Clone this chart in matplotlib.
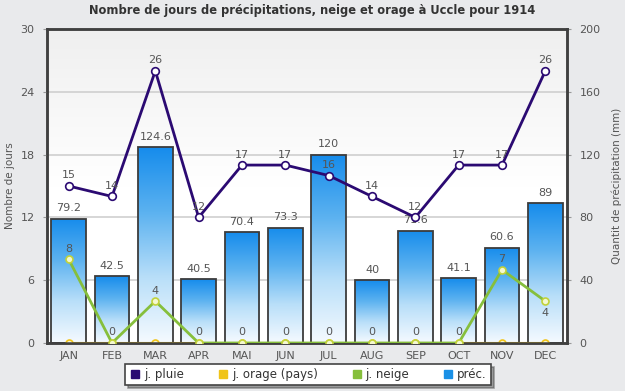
import numpy as np
import matplotlib
matplotlib.use('Agg')
import matplotlib.pyplot as plt
from matplotlib.lines import Line2D


# =====================
# data
months = ['JAN', 'FEB', 'MAR', 'APR', 'MAI', 'JUN', 'JUL', 'AUG', 'SEP', 'OCT', 'NOV', 'DEC']
pluie = [15, 14, 26, 12, 17, 17, 16, 14, 12, 17, 17, 26]
orage = [0, 0, 0, 0, 0, 0, 0, 0, 0, 0, 0, 0]
neige = [8, 0, 4, 0, 0, 0, 0, 0, 0, 0, 7, 4]
prec = [79.2, 42.5, 124.6, 40.5, 70.4, 73.3, 120, 40, 71.6, 41.1, 60.6, 89]

left_ticks = [0, 6, 12, 18, 24, 30]
right_ticks = [0, 40, 80, 120, 160, 200]

txt = '#555555'
navy = '#2b0a72'
green = '#86bf3c'
yellow = '#f0c419'
blue = '#1a90e6'

plt.rcParams['font.family'] = ['DejaVu Sans']


# =====================
# figure
fig = plt.figure(figsize=(6.25, 3.91), dpi=100)
fig.patch.set_facecolor('#e9eaec')
ax2 = fig.add_axes([47/625, 48/391, 520/625, 314/391])
ax = ax2.twinx()
ax.yaxis.tick_left()
ax.yaxis.set_label_position('left')
ax2.yaxis.tick_right()
ax2.yaxis.set_label_position('right')
ax.set_zorder(ax2.get_zorder() + 1)
ax.patch.set_visible(False)

x = np.arange(len(months))

# background gradient of plot area
bg = np.linspace(0, 1, 256).reshape(-1, 1)
ax2.imshow(bg, extent=[0, 1, 0, 1], transform=ax2.transAxes, aspect='auto',
           cmap=matplotlib.colors.LinearSegmentedColormap.from_list('bg', ['#ffffff', '#ffffff', '#efefef']),
           origin='lower', zorder=0)

# grid
for t in right_ticks[1:-1]:
    ax2.axhline(t, color='#cfcfcf', lw=1.2, zorder=1)

# -----------------------
# bars with gradient
bars = ax2.bar(x, prec, width=0.8, facecolor='none', edgecolor='#3c3c3c', lw=1.3, zorder=3)
cm = matplotlib.colors.LinearSegmentedColormap.from_list('bar', ['#f5faff', '#b9dff9', '#5cb2f0', '#168cec'])
grad = np.linspace(0, 1, 256).reshape(-1, 1)
for b in bars:
    bx, by = b.get_x(), b.get_y()
    im = ax2.imshow(grad, extent=[bx, bx + b.get_width(), by, by + b.get_height()],
                    aspect='auto', cmap=cm, origin='lower', zorder=2)
    im.set_clip_path(b)
for xi, v in zip(x, prec):
    ax2.annotate('%g' % v, (xi, v), xytext=(0, 4), textcoords='offset points',
                 ha='center', va='bottom', fontsize=8, color=txt, zorder=4)

ax2.set_xlim(-0.5, 11.5)
ax2.set_ylim(0, 200)
ax2.set_yticks(right_ticks)
ax2.set_ylabel('Quantit de précipitation (mm)', color=txt, fontsize=7.5, labelpad=8)

# -----------------------
# lines
ax.plot(x, orage, color=yellow, lw=1.5, marker='o', ms=5, mfc='#fbf6d0', mec=yellow, mew=1.2, zorder=1)
ax.plot(x, neige, color=green, lw=2, marker='o', ms=5, mfc='#f4f8d0', mec='#c2d23a', mew=1.2, zorder=4)
ax.plot(x, pluie, color=navy, lw=2, marker='o', ms=5.5, mfc='white', mec=navy, mew=1.2, zorder=5)

for xi, v in zip(x, pluie):
    ax.annotate(str(v), (xi, v), xytext=(0, 4), textcoords='offset points',
                ha='center', va='bottom', fontsize=8, color=txt, zorder=6)
for i, (xi, v) in enumerate(zip(x, neige)):
    if i == 11:
        ax.annotate(str(v), (xi, v), xytext=(0, -5), textcoords='offset points',
                    ha='center', va='top', fontsize=8, color=txt, zorder=6)
    else:
        ax.annotate(str(v), (xi, v), xytext=(0, 4), textcoords='offset points',
                    ha='center', va='bottom', fontsize=8, color=txt, zorder=6)

ax.set_xlim(-0.5, 11.5)
ax.set_ylim(0, 30)
ax.set_yticks(left_ticks)
ax.set_ylabel('Nombre de jours', color=txt, fontsize=7.5, labelpad=4)
ax2.set_xticks(x)
ax2.set_xticklabels(months)

for a in (ax, ax2):
    a.tick_params(colors=txt, labelsize=8, length=0, pad=6)
    for s in a.spines.values():
        s.set_color('#404040')
        s.set_linewidth(1.8)
        s.set_zorder(3)
ax.tick_params(axis='y', length=3, color='#999999')
ax2.tick_params(axis='y', length=3, color='#999999')

fig.text(0.5, 0.972, 'Nombre de jours de précipitations, neige et orage à Uccle pour 1914',
         ha='center', va='center', fontsize=8.3, fontweight='bold', color='#333333')

# -----------------------
# legend
handles = [Line2D([], [], ls='none', marker='s', ms=6, mfc=c, mec=c)
           for c in (navy, yellow, green, blue)]
leg = fig.legend(handles, ['j. pluie', 'j. orage (pays)', 'j. neige', 'préc.'],
                 loc='center', bbox_to_anchor=(0.493, 0.042), ncol=4, frameon=True,
                 fancybox=False, shadow=True, fontsize=8.5, handletextpad=0.25,
                 columnspacing=2.8, borderpad=0.35, handlelength=1)
leg.get_frame().set_edgecolor('#444444')
leg.get_frame().set_linewidth(1.2)
for t in leg.get_texts():
    t.set_color('#333333')

plt.savefig('out.png', dpi=100, facecolor=fig.get_facecolor())
